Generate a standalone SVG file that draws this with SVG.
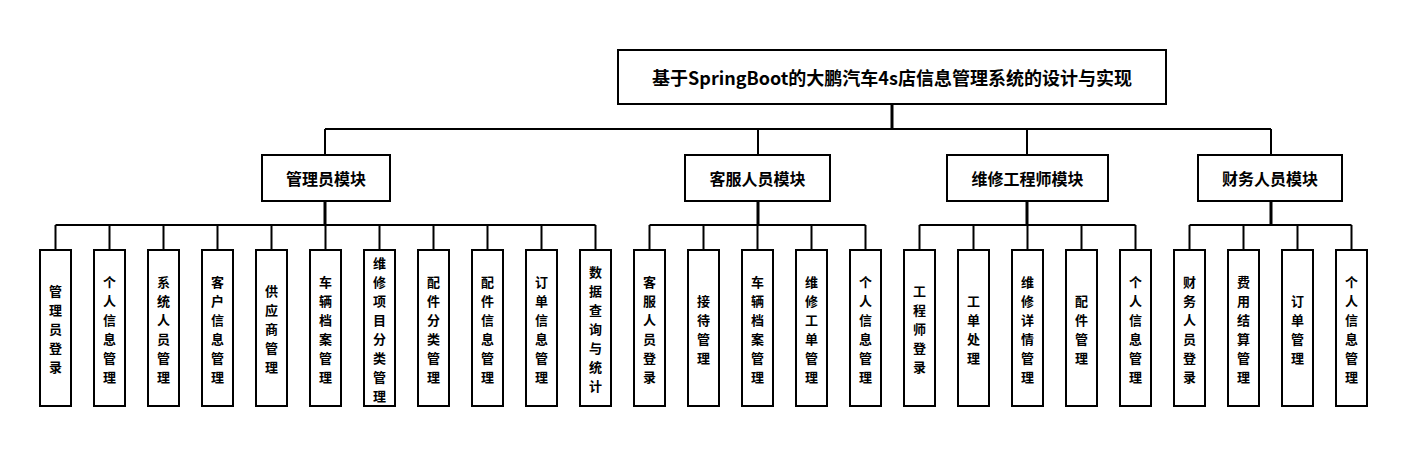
<svg xmlns="http://www.w3.org/2000/svg" width="1406" height="456" viewBox="0 0 1406 456">
<style>
.box{fill:#fff;stroke:#000;stroke-width:2}
.ln{fill:none;stroke:#000;stroke-width:2}
.th{fill:none;stroke:#000;stroke-width:3}
text{font-family:"Noto Sans CJK SC","Noto Sans",sans-serif;font-weight:bold;fill:#000;text-anchor:middle;dominant-baseline:central}
.t0{font-size:18px}
.t1{font-size:16px}
.t2{font-size:13px}
</style>
<rect width="1406" height="456" fill="#fff"/>
<g id="connectors">
<path class="th" d="M892 104V129"/>
<path class="ln" d="M325 129H1271M325 129V155M758 129V155M1027 129V155M1271 129V155"/>
<path class="th" d="M325 201V225M758 201V225M1027 201V225M1271 201V225"/>
<path class="ln" d="M55.5 225H595.5M55.5 225V250M109.5 225V250M163.5 225V250M217.5 225V250M271.5 225V250M325.5 225V250M379.5 225V250M433.5 225V250M487.5 225V250M541.5 225V250M595.5 225V250"/>
<path class="ln" d="M649.5 225H865.5M649.5 225V250M703.5 225V250M757.5 225V250M811.5 225V250M865.5 225V250"/>
<path class="ln" d="M919.5 225H1135.5M919.5 225V250M973.5 225V250M1027.5 225V250M1081.5 225V250M1135.5 225V250"/>
<path class="ln" d="M1189.5 225H1351.5M1189.5 225V250M1243.5 225V250M1297.5 225V250M1351.5 225V250"/>
</g>
<g id="root"><rect class="box" x="618" y="50" width="548" height="54"/><text class="t0" x="892" y="77">基于SpringBoot的大鹏汽车4s店信息管理系统的设计与实现</text></g>
<g id="m1"><rect class="box" x="262" y="155" width="128" height="46"/><text class="t1" x="326" y="178">管理员模块</text></g>
<g id="m2"><rect class="box" x="685" y="155" width="145" height="46"/><text class="t1" x="757.5" y="178">客服人员模块</text></g>
<g id="m3"><rect class="box" x="947" y="155" width="161" height="46"/><text class="t1" x="1027.5" y="178">维修工程师模块</text></g>
<g id="m4"><rect class="box" x="1198" y="155" width="144" height="46"/><text class="t1" x="1270" y="178">财务人员模块</text></g>

<g id="a1"><rect class="box" x="40" y="250" width="31" height="156"/><text class="t2"><tspan x="55.5" y="290">管</tspan><tspan x="55.5" y="309">理</tspan><tspan x="55.5" y="328">员</tspan><tspan x="55.5" y="347">登</tspan><tspan x="55.5" y="366">录</tspan></text></g>
<g id="a2"><rect class="box" x="94" y="250" width="31" height="156"/><text class="t2"><tspan x="109.5" y="280.5">个</tspan><tspan x="109.5" y="299.5">人</tspan><tspan x="109.5" y="318.5">信</tspan><tspan x="109.5" y="337.5">息</tspan><tspan x="109.5" y="356.5">管</tspan><tspan x="109.5" y="375.5">理</tspan></text></g>
<g id="a3"><rect class="box" x="148" y="250" width="31" height="156"/><text class="t2"><tspan x="163.5" y="280.5">系</tspan><tspan x="163.5" y="299.5">统</tspan><tspan x="163.5" y="318.5">人</tspan><tspan x="163.5" y="337.5">员</tspan><tspan x="163.5" y="356.5">管</tspan><tspan x="163.5" y="375.5">理</tspan></text></g>
<g id="a4"><rect class="box" x="202" y="250" width="31" height="156"/><text class="t2"><tspan x="217.5" y="280.5">客</tspan><tspan x="217.5" y="299.5">户</tspan><tspan x="217.5" y="318.5">信</tspan><tspan x="217.5" y="337.5">息</tspan><tspan x="217.5" y="356.5">管</tspan><tspan x="217.5" y="375.5">理</tspan></text></g>
<g id="a5"><rect class="box" x="256" y="250" width="31" height="156"/><text class="t2"><tspan x="271.5" y="290">供</tspan><tspan x="271.5" y="309">应</tspan><tspan x="271.5" y="328">商</tspan><tspan x="271.5" y="347">管</tspan><tspan x="271.5" y="366">理</tspan></text></g>
<g id="a6"><rect class="box" x="310" y="250" width="31" height="156"/><text class="t2"><tspan x="325.5" y="280.5">车</tspan><tspan x="325.5" y="299.5">辆</tspan><tspan x="325.5" y="318.5">档</tspan><tspan x="325.5" y="337.5">案</tspan><tspan x="325.5" y="356.5">管</tspan><tspan x="325.5" y="375.5">理</tspan></text></g>
<g id="a7"><rect class="box" x="364" y="250" width="31" height="156"/><text class="t2"><tspan x="379.5" y="261.5">维</tspan><tspan x="379.5" y="280.5">修</tspan><tspan x="379.5" y="299.5">项</tspan><tspan x="379.5" y="318.5">目</tspan><tspan x="379.5" y="337.5">分</tspan><tspan x="379.5" y="356.5">类</tspan><tspan x="379.5" y="375.5">管</tspan><tspan x="379.5" y="394.5">理</tspan></text></g>
<g id="a8"><rect class="box" x="418" y="250" width="31" height="156"/><text class="t2"><tspan x="433.5" y="280.5">配</tspan><tspan x="433.5" y="299.5">件</tspan><tspan x="433.5" y="318.5">分</tspan><tspan x="433.5" y="337.5">类</tspan><tspan x="433.5" y="356.5">管</tspan><tspan x="433.5" y="375.5">理</tspan></text></g>
<g id="a9"><rect class="box" x="472" y="250" width="31" height="156"/><text class="t2"><tspan x="487.5" y="280.5">配</tspan><tspan x="487.5" y="299.5">件</tspan><tspan x="487.5" y="318.5">信</tspan><tspan x="487.5" y="337.5">息</tspan><tspan x="487.5" y="356.5">管</tspan><tspan x="487.5" y="375.5">理</tspan></text></g>
<g id="a10"><rect class="box" x="526" y="250" width="31" height="156"/><text class="t2"><tspan x="541.5" y="280.5">订</tspan><tspan x="541.5" y="299.5">单</tspan><tspan x="541.5" y="318.5">信</tspan><tspan x="541.5" y="337.5">息</tspan><tspan x="541.5" y="356.5">管</tspan><tspan x="541.5" y="375.5">理</tspan></text></g>
<g id="a11"><rect class="box" x="580" y="250" width="31" height="156"/><text class="t2"><tspan x="595.5" y="271">数</tspan><tspan x="595.5" y="290">据</tspan><tspan x="595.5" y="309">查</tspan><tspan x="595.5" y="328">询</tspan><tspan x="595.5" y="347">与</tspan><tspan x="595.5" y="366">统</tspan><tspan x="595.5" y="385">计</tspan></text></g>

<g id="b1"><rect class="box" x="634" y="250" width="31" height="156"/><text class="t2"><tspan x="649.5" y="280.5">客</tspan><tspan x="649.5" y="299.5">服</tspan><tspan x="649.5" y="318.5">人</tspan><tspan x="649.5" y="337.5">员</tspan><tspan x="649.5" y="356.5">登</tspan><tspan x="649.5" y="375.5">录</tspan></text></g>
<g id="b2"><rect class="box" x="688" y="250" width="31" height="156"/><text class="t2"><tspan x="703.5" y="299.5">接</tspan><tspan x="703.5" y="318.5">待</tspan><tspan x="703.5" y="337.5">管</tspan><tspan x="703.5" y="356.5">理</tspan></text></g>
<g id="b3"><rect class="box" x="742" y="250" width="31" height="156"/><text class="t2"><tspan x="757.5" y="280.5">车</tspan><tspan x="757.5" y="299.5">辆</tspan><tspan x="757.5" y="318.5">档</tspan><tspan x="757.5" y="337.5">案</tspan><tspan x="757.5" y="356.5">管</tspan><tspan x="757.5" y="375.5">理</tspan></text></g>
<g id="b4"><rect class="box" x="796" y="250" width="31" height="156"/><text class="t2"><tspan x="811.5" y="280.5">维</tspan><tspan x="811.5" y="299.5">修</tspan><tspan x="811.5" y="318.5">工</tspan><tspan x="811.5" y="337.5">单</tspan><tspan x="811.5" y="356.5">管</tspan><tspan x="811.5" y="375.5">理</tspan></text></g>
<g id="b5"><rect class="box" x="850" y="250" width="31" height="156"/><text class="t2"><tspan x="865.5" y="280.5">个</tspan><tspan x="865.5" y="299.5">人</tspan><tspan x="865.5" y="318.5">信</tspan><tspan x="865.5" y="337.5">息</tspan><tspan x="865.5" y="356.5">管</tspan><tspan x="865.5" y="375.5">理</tspan></text></g>

<g id="c1"><rect class="box" x="904" y="250" width="31" height="156"/><text class="t2"><tspan x="919.5" y="290">工</tspan><tspan x="919.5" y="309">程</tspan><tspan x="919.5" y="328">师</tspan><tspan x="919.5" y="347">登</tspan><tspan x="919.5" y="366">录</tspan></text></g>
<g id="c2"><rect class="box" x="958" y="250" width="31" height="156"/><text class="t2"><tspan x="973.5" y="299.5">工</tspan><tspan x="973.5" y="318.5">单</tspan><tspan x="973.5" y="337.5">处</tspan><tspan x="973.5" y="356.5">理</tspan></text></g>
<g id="c3"><rect class="box" x="1012" y="250" width="31" height="156"/><text class="t2"><tspan x="1027.5" y="280.5">维</tspan><tspan x="1027.5" y="299.5">修</tspan><tspan x="1027.5" y="318.5">详</tspan><tspan x="1027.5" y="337.5">情</tspan><tspan x="1027.5" y="356.5">管</tspan><tspan x="1027.5" y="375.5">理</tspan></text></g>
<g id="c4"><rect class="box" x="1066" y="250" width="31" height="156"/><text class="t2"><tspan x="1081.5" y="299.5">配</tspan><tspan x="1081.5" y="318.5">件</tspan><tspan x="1081.5" y="337.5">管</tspan><tspan x="1081.5" y="356.5">理</tspan></text></g>
<g id="c5"><rect class="box" x="1120" y="250" width="31" height="156"/><text class="t2"><tspan x="1135.5" y="280.5">个</tspan><tspan x="1135.5" y="299.5">人</tspan><tspan x="1135.5" y="318.5">信</tspan><tspan x="1135.5" y="337.5">息</tspan><tspan x="1135.5" y="356.5">管</tspan><tspan x="1135.5" y="375.5">理</tspan></text></g>

<g id="d1"><rect class="box" x="1174" y="250" width="31" height="156"/><text class="t2"><tspan x="1189.5" y="280.5">财</tspan><tspan x="1189.5" y="299.5">务</tspan><tspan x="1189.5" y="318.5">人</tspan><tspan x="1189.5" y="337.5">员</tspan><tspan x="1189.5" y="356.5">登</tspan><tspan x="1189.5" y="375.5">录</tspan></text></g>
<g id="d2"><rect class="box" x="1228" y="250" width="31" height="156"/><text class="t2"><tspan x="1243.5" y="280.5">费</tspan><tspan x="1243.5" y="299.5">用</tspan><tspan x="1243.5" y="318.5">结</tspan><tspan x="1243.5" y="337.5">算</tspan><tspan x="1243.5" y="356.5">管</tspan><tspan x="1243.5" y="375.5">理</tspan></text></g>
<g id="d3"><rect class="box" x="1282" y="250" width="31" height="156"/><text class="t2"><tspan x="1297.5" y="299.5">订</tspan><tspan x="1297.5" y="318.5">单</tspan><tspan x="1297.5" y="337.5">管</tspan><tspan x="1297.5" y="356.5">理</tspan></text></g>
<g id="d4"><rect class="box" x="1336" y="250" width="31" height="156"/><text class="t2"><tspan x="1351.5" y="280.5">个</tspan><tspan x="1351.5" y="299.5">人</tspan><tspan x="1351.5" y="318.5">信</tspan><tspan x="1351.5" y="337.5">息</tspan><tspan x="1351.5" y="356.5">管</tspan><tspan x="1351.5" y="375.5">理</tspan></text></g>
</svg>
